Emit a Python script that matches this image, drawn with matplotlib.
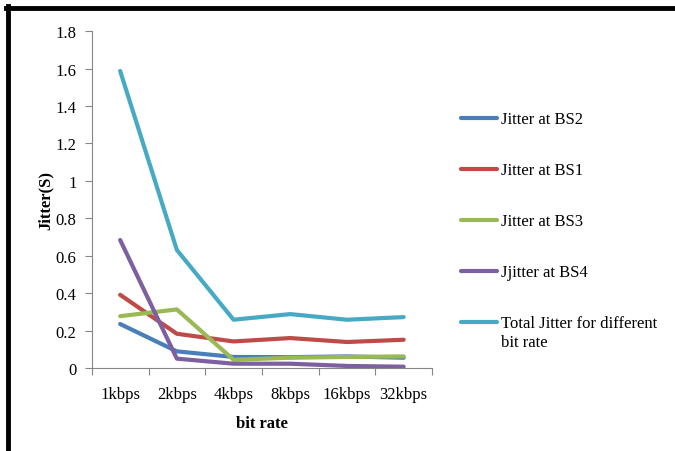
import numpy as np
from matplotlib import pyplot as plt
from matplotlib.lines import Line2D
from matplotlib.ticker import FuncFormatter

plt.rcParams["font.family"] = ["Liberation Serif", "DejaVu Serif"]

# data
rates = ["1kbps", "2kbps", "4kbps", "8kbps", "16kbps", "32kbps"]
bs2 = [0.235, 0.089, 0.059, 0.058, 0.062, 0.055]
bs1 = [0.391, 0.183, 0.142, 0.160, 0.139, 0.151]
bs3 = [0.277, 0.313, 0.044, 0.055, 0.059, 0.062]
bs4 = [0.684, 0.050, 0.023, 0.023, 0.011, 0.007]
total = [1.587, 0.631, 0.258, 0.288, 0.258, 0.272]

labels = ["Jitter at BS2", "Jitter at BS1", "Jitter at BS3", "Jjitter at BS4",
          "Total Jitter for different"]
colors = ["#4A7EBB", "#BE4B48", "#98B954", "#7D60A0", "#46AAC5"]

fig = plt.figure(figsize=(6.75, 4.52), dpi=100)
ax = fig.add_axes([0.136, 0.1836, 0.504, 0.7454])

x = np.arange(len(rates))
for ys, c, lab in zip([bs2, bs1, bs3, bs4, total], colors, labels):
    ax.plot(x, ys, color=c, lw=3, label=lab, solid_capstyle="round")

ax.set_xlim(-0.5, len(rates) - 0.5)
ax.set_ylim(0, 1.8)
ax.set_yticks(np.arange(0, 1.81, 0.2))
ax.yaxis.set_major_formatter(FuncFormatter(lambda v, p: f"{v:g}"))
ax.set_xticks(np.arange(-0.5, len(rates), 1.0))
ax.set_xticklabels([])
ax.set_xticks(x, minor=True)
ax.set_xticklabels(rates, minor=True)
ax.tick_params(axis="x", which="minor", length=0, pad=13, labelsize=12)
ax.tick_params(axis="x", which="major", length=5, color="#868686")
ax.tick_params(axis="y", length=5, color="#868686", labelsize=12, pad=6)

for s in ["top", "right"]:
    ax.spines[s].set_visible(False)
for s in ["left", "bottom"]:
    ax.spines[s].set_color("#868686")

ax.set_ylabel("Jitter(S)", fontsize=12, fontweight="bold", labelpad=1)
ax.set_xlabel("bit rate", fontsize=12, fontweight="bold", labelpad=9)

leg = fig.legend(loc="upper left", bbox_to_anchor=(0.6726, 0.766), frameon=False,
                 fontsize=12, labelspacing=2.1, handlelength=2.2,
                 handletextpad=0.2, borderaxespad=0)

fig.canvas.draw()
t = leg.get_texts()[-1]
bb = t.get_window_extent().transformed(fig.transFigure.inverted())
fig.text(bb.x0, bb.y0 - 0.005, "bit rate", fontsize=12, va="top", ha="left")

# black frame on top and left
fig.add_artist(Line2D([6 / 675, 1.0], [1 - 9 / 452] * 2, color="black", lw=3.5,
                      transform=fig.transFigure))
fig.add_artist(Line2D([8 / 675] * 2, [0, 1 - 7 / 452], color="black", lw=3.5,
                      transform=fig.transFigure))

fig.savefig("out.png", dpi=100)
